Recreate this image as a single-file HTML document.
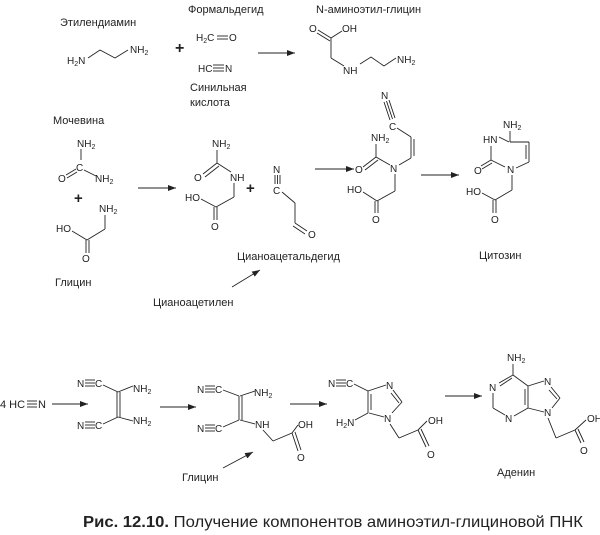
<!DOCTYPE html>
<html><head><meta charset="utf-8"><style>
html,body{margin:0;padding:0;background:#fff}
svg{display:block}
text{font-family:"Liberation Sans",sans-serif;fill:#222}
.n{font-size:11px}
.a{font-size:10px}
.s{font-size:7px}
line,polyline{stroke:#222;stroke-width:0.9;fill:none}
</style></head><body>
<svg width="600" height="535" viewBox="0 0 600 535">
<defs><marker id="ar" markerWidth="8" markerHeight="6" refX="8" refY="3" orient="auto" markerUnits="userSpaceOnUse"><path d="M0,0 L8,3 L0,6 z" fill="#222"/></marker></defs>

<!-- Row 1 -->
<text class="n" x="60" y="26">Этилендиамин</text>
<text class="a" x="67" y="64">H<tspan class="s" dy="2">2</tspan><tspan dy="-2">N</tspan></text>
<polyline points="88,58 100,50 115,58 128,50"/>
<text class="a" x="130" y="53">NH<tspan class="s" dy="2">2</tspan></text>
<text x="175" y="53" style="font-size:16px;font-weight:bold">+</text>
<text class="n" x="188" y="13">Формальдегид</text>
<text class="a" x="196" y="41">H<tspan class="s" dy="2">2</tspan><tspan dy="-2">C</tspan></text>
<line x1="217" y1="36" x2="228" y2="36"/><line x1="217" y1="39" x2="228" y2="39"/>
<text class="a" x="229" y="41">O</text>
<text class="a" x="198" y="72">HC</text>
<line x1="213" y1="65" x2="224" y2="65"/><line x1="213" y1="68" x2="224" y2="68"/><line x1="213" y1="71" x2="224" y2="71"/>
<text class="a" x="225" y="72">N</text>
<text class="n" x="190" y="91">Синильная</text>
<text class="n" x="190" y="106">кислота</text>
<line x1="258" y1="53" x2="295" y2="53" marker-end="url(#ar)"/>
<text class="n" x="316" y="13">N-аминоэтил-глицин</text>
<text class="a" x="309" y="32">O</text>
<text class="a" x="342" y="32">OH</text>
<line x1="318" y1="30" x2="331" y2="38"/><line x1="317" y1="33" x2="330" y2="41"/>
<line x1="331" y1="38" x2="342" y2="31"/>
<line x1="331" y1="38" x2="331" y2="58"/>
<line x1="331" y1="58" x2="344" y2="66"/>
<text class="a" x="343" y="74">NH</text>
<polyline points="360,64 371,57 384,66 396,58"/>
<text class="a" x="397" y="63">NH<tspan class="s" dy="2">2</tspan></text>

<!-- Row 2 -->
<text class="n" x="53" y="124">Мочевина</text>
<text class="a" x="77" y="147">NH<tspan class="s" dy="2">2</tspan></text>
<line x1="81" y1="149" x2="81" y2="160"/>
<text class="a" x="76" y="171">C</text>
<line x1="66" y1="175" x2="76" y2="169"/><line x1="67" y1="178" x2="77" y2="172"/>
<text class="a" x="58" y="182">O</text>
<line x1="84" y1="170" x2="96" y2="176"/>
<text class="a" x="95" y="182">NH<tspan class="s" dy="2">2</tspan></text>
<text x="74" y="203" style="font-size:15px;font-weight:bold">+</text>
<text class="a" x="99" y="212">NH<tspan class="s" dy="2">2</tspan></text>
<line x1="105" y1="215" x2="105" y2="229"/>
<line x1="105" y1="229" x2="87" y2="240"/>
<text class="a" x="56" y="232">HO</text>
<line x1="72" y1="231" x2="87" y2="240"/>
<line x1="86" y1="240" x2="86" y2="253"/><line x1="89" y1="240" x2="89" y2="253"/>
<text class="a" x="82" y="262">O</text>
<text class="n" x="55" y="286">Глицин</text>

<line x1="138" y1="188" x2="176" y2="188" marker-end="url(#ar)"/>
<text class="a" x="212" y="147">NH<tspan class="s" dy="2">2</tspan></text>
<line x1="217" y1="150" x2="217" y2="163"/>
<line x1="203" y1="174" x2="217" y2="163"/><line x1="205" y1="177" x2="219" y2="166"/>
<text class="a" x="194" y="181">O</text>
<line x1="217" y1="163" x2="231" y2="172"/>
<text class="a" x="230" y="181">NH</text>
<line x1="234" y1="183" x2="234" y2="197"/>
<line x1="234" y1="197" x2="216" y2="207"/>
<text class="a" x="185" y="201">HO</text>
<line x1="201" y1="199" x2="216" y2="207"/>
<line x1="214" y1="207" x2="214" y2="220"/><line x1="217" y1="207" x2="217" y2="220"/>
<text class="a" x="211" y="230">O</text>
<text x="246" y="193" style="font-size:15px;font-weight:bold">+</text>
<text class="a" x="273" y="173">N</text>
<line x1="275" y1="175" x2="275" y2="184"/><line x1="277.5" y1="175" x2="277.5" y2="184"/><line x1="280" y1="175" x2="280" y2="184"/>
<text class="a" x="273" y="194">C</text>
<line x1="282" y1="192" x2="295" y2="203"/>
<line x1="295" y1="203" x2="295" y2="223"/>
<line x1="295" y1="223" x2="307" y2="231"/><line x1="293" y1="226" x2="305" y2="234"/>
<text class="a" x="308" y="238">O</text>
<text class="n" x="237" y="260">Цианоацетальдегид</text>
<line x1="232" y1="287" x2="260" y2="270" marker-end="url(#ar)"/>
<text class="n" x="153" y="306">Цианоацетилен</text>

<line x1="315" y1="169" x2="354" y2="169" marker-end="url(#ar)"/>
<text class="a" x="381" y="99">N</text>
<line x1="384" y1="102" x2="390" y2="120"/><line x1="386.5" y1="101" x2="392.5" y2="119"/><line x1="389" y1="100" x2="395" y2="118"/>
<text class="a" x="389" y="130">C</text>
<line x1="397" y1="128" x2="411" y2="137"/>
<line x1="411" y1="137" x2="411" y2="158"/><line x1="414" y1="139" x2="414" y2="156"/>
<line x1="411" y1="158" x2="399" y2="165"/>
<text class="a" x="371" y="141">NH<tspan class="s" dy="2">2</tspan></text>
<line x1="376" y1="144" x2="376" y2="157"/>
<line x1="363" y1="167" x2="376" y2="157"/><line x1="365" y1="170" x2="378" y2="160"/>
<text class="a" x="355" y="173">O</text>
<line x1="376" y1="157" x2="390" y2="165"/>
<text class="a" x="390" y="172">N</text>
<line x1="395" y1="174" x2="395" y2="191"/>
<line x1="395" y1="191" x2="377" y2="201"/>
<text class="a" x="347" y="193">HO</text>
<line x1="363" y1="192" x2="377" y2="201"/>
<line x1="375" y1="201" x2="375" y2="213"/><line x1="378" y1="201" x2="378" y2="213"/>
<text class="a" x="372" y="223">O</text>

<line x1="421" y1="175" x2="459" y2="175" marker-end="url(#ar)"/>
<text class="a" x="503" y="128">NH<tspan class="s" dy="2">2</tspan></text>
<line x1="510" y1="131" x2="510" y2="142"/>
<line x1="510" y1="142" x2="529" y2="142"/>
<line x1="509" y1="142" x2="499" y2="137"/>
<text class="a" x="483" y="143">HN</text>
<line x1="529" y1="142" x2="529" y2="162"/><line x1="526" y1="145" x2="526" y2="159"/>
<line x1="529" y1="162" x2="516" y2="168"/>
<line x1="491" y1="146" x2="491" y2="160"/>
<line x1="491" y1="160" x2="505" y2="167"/>
<line x1="491" y1="160" x2="481" y2="166"/><line x1="492" y1="163" x2="482" y2="169"/>
<text class="a" x="474" y="174">O</text>
<text class="a" x="507" y="173">N</text>
<line x1="512" y1="175" x2="512" y2="190"/>
<line x1="512" y1="190" x2="495" y2="200"/>
<text class="a" x="466" y="195">HO</text>
<line x1="482" y1="193" x2="495" y2="200"/>
<line x1="493" y1="200" x2="493" y2="213"/><line x1="496" y1="200" x2="496" y2="213"/>
<text class="a" x="491" y="223">O</text>
<text class="n" x="479" y="259">Цитозин</text>

<!-- Row 3 -->
<text x="0" y="408" style="font-size:11px">4 HC</text>
<line x1="27" y1="401" x2="37" y2="401"/><line x1="27" y1="404" x2="37" y2="404"/><line x1="27" y1="407" x2="37" y2="407"/>
<text x="38" y="408" style="font-size:11px">N</text>
<line x1="52" y1="404" x2="88" y2="404" marker-end="url(#ar)"/>
<text class="a" x="77" y="387">N</text>
<line x1="85" y1="380" x2="95" y2="380"/><line x1="85" y1="383" x2="95" y2="383"/><line x1="85" y1="386" x2="95" y2="386"/>
<text class="a" x="95" y="387">C</text>
<text class="a" x="77" y="429">N</text>
<line x1="85" y1="422" x2="95" y2="422"/><line x1="85" y1="425" x2="95" y2="425"/><line x1="85" y1="428" x2="95" y2="428"/>
<text class="a" x="95" y="429">C</text>
<line x1="103" y1="385" x2="118" y2="392"/>
<line x1="103" y1="424" x2="118" y2="417"/>
<line x1="117" y1="392" x2="117" y2="417"/><line x1="120" y1="392" x2="120" y2="417"/>
<line x1="118" y1="392" x2="133" y2="386"/>
<line x1="118" y1="417" x2="133" y2="421"/>
<text class="a" x="133" y="392">NH<tspan class="s" dy="2">2</tspan></text>
<text class="a" x="133" y="424">NH<tspan class="s" dy="2">2</tspan></text>

<line x1="160" y1="407" x2="196" y2="407" marker-end="url(#ar)"/>
<text class="a" x="197" y="393">N</text>
<line x1="205" y1="386" x2="215" y2="386"/><line x1="205" y1="389" x2="215" y2="389"/><line x1="205" y1="392" x2="215" y2="392"/>
<text class="a" x="215" y="393">C</text>
<text class="a" x="197" y="432">N</text>
<line x1="205" y1="425" x2="215" y2="425"/><line x1="205" y1="428" x2="215" y2="428"/><line x1="205" y1="431" x2="215" y2="431"/>
<text class="a" x="215" y="432">C</text>
<line x1="223" y1="390" x2="239" y2="396"/>
<line x1="223" y1="427" x2="239" y2="420"/>
<line x1="239" y1="396" x2="239" y2="420"/><line x1="242" y1="396" x2="242" y2="420"/>
<line x1="240" y1="396" x2="255" y2="391"/>
<line x1="240" y1="420" x2="255" y2="424"/>
<text class="a" x="254" y="396">NH<tspan class="s" dy="2">2</tspan></text>
<text class="a" x="255" y="428">NH</text>
<line x1="263" y1="430" x2="273" y2="441"/>
<line x1="273" y1="441" x2="292" y2="433"/>
<line x1="292" y1="433" x2="298" y2="425"/>
<text class="a" x="298" y="428">OH</text>
<line x1="292" y1="433" x2="298" y2="451"/><line x1="295" y1="432" x2="301" y2="450"/>
<text class="a" x="297" y="461">O</text>
<line x1="223" y1="468" x2="253" y2="452" marker-end="url(#ar)"/>
<text class="n" x="182" y="481">Глицин</text>

<line x1="290" y1="404" x2="327" y2="404" marker-end="url(#ar)"/>
<text class="a" x="328" y="387">N</text>
<line x1="336" y1="380" x2="346" y2="380"/><line x1="336" y1="383" x2="346" y2="383"/><line x1="336" y1="386" x2="346" y2="386"/>
<text class="a" x="346" y="387">C</text>
<line x1="354" y1="384" x2="368" y2="391"/>
<line x1="368" y1="391" x2="386" y2="385"/>
<text class="a" x="386" y="389">N</text>
<line x1="393" y1="390" x2="402" y2="402"/><line x1="391" y1="393" x2="399" y2="403"/>
<line x1="402" y1="402" x2="392" y2="413"/>
<text class="a" x="384" y="422">N</text>
<line x1="384" y1="417" x2="369" y2="413"/>
<line x1="368" y1="391" x2="368" y2="413"/><line x1="371" y1="394" x2="371" y2="410"/>
<line x1="368" y1="413" x2="355" y2="420"/>
<text class="a" x="336" y="426">H<tspan class="s" dy="2">2</tspan><tspan dy="-2">N</tspan></text>
<line x1="390" y1="424" x2="399" y2="438"/>
<line x1="399" y1="438" x2="418" y2="430"/>
<line x1="418" y1="430" x2="427" y2="421"/>
<text class="a" x="428" y="424">OH</text>
<line x1="418" y1="430" x2="426" y2="447"/><line x1="421" y1="429" x2="429" y2="446"/>
<text class="a" x="427" y="458">O</text>

<line x1="445" y1="396" x2="482" y2="396" marker-end="url(#ar)"/>
<text class="a" x="507" y="361">NH<tspan class="s" dy="2">2</tspan></text>
<line x1="513" y1="364" x2="513" y2="375"/>
<line x1="513" y1="375" x2="499" y2="383"/>
<line x1="512" y1="378" x2="500" y2="386"/>
<text class="a" x="489" y="391">N</text>
<line x1="493" y1="393" x2="493" y2="408"/>
<line x1="493" y1="408" x2="505" y2="415"/>
<text class="a" x="505" y="422">N</text>
<line x1="514" y1="416" x2="528" y2="408"/>
<line x1="528" y1="408" x2="528" y2="386"/><line x1="525" y1="405" x2="525" y2="389"/>
<line x1="528" y1="386" x2="513" y2="375"/>
<line x1="528" y1="386" x2="544" y2="381"/>
<text class="a" x="544" y="385">N</text>
<line x1="551" y1="387" x2="560" y2="398"/><line x1="549" y1="390" x2="557" y2="399"/>
<line x1="560" y1="398" x2="552" y2="408"/>
<text class="a" x="544" y="416">N</text>
<line x1="544" y1="412" x2="528" y2="408"/>
<line x1="548" y1="418" x2="556" y2="438"/>
<line x1="556" y1="438" x2="575" y2="430"/>
<line x1="575" y1="430" x2="586" y2="420"/>
<text class="a" x="587" y="422">OH</text>
<line x1="575" y1="430" x2="581" y2="443"/><line x1="578" y1="429" x2="584" y2="442"/>
<text class="a" x="580" y="454">O</text>
<text class="n" x="497" y="476">Аденин</text>

<text x="83" y="527" textLength="500" lengthAdjust="spacingAndGlyphs" style="font-size:16px"><tspan font-weight="bold">Рис. 12.10.</tspan> Получение компонентов аминоэтил-глициновой ПНК</text>
</svg>
</body></html>
